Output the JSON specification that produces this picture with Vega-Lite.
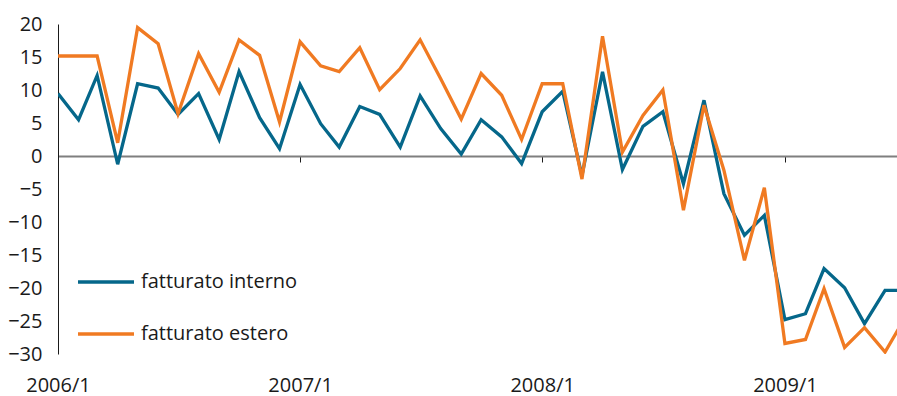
{
  "$schema": "https://vega.github.io/schema/vega-lite/v6.json",
  "width": 839,
  "height": 330,
  "autosize": "none",
  "padding": {"left": 58, "top": 24, "right": 0, "bottom": 42},
  "background": "white",
  "config": {
    "font": "Open Sans",
    "view": {"stroke": null}
  },
  "data": {
    "values": [
      {"date": "2006-01-01", "serie": "fatturato interno", "valore": 9.45},
      {"date": "2006-02-01", "serie": "fatturato interno", "valore": 5.5},
      {"date": "2006-03-01", "serie": "fatturato interno", "valore": 12.2},
      {"date": "2006-04-01", "serie": "fatturato interno", "valore": -1.25},
      {"date": "2006-05-01", "serie": "fatturato interno", "valore": 10.95},
      {"date": "2006-06-01", "serie": "fatturato interno", "valore": 10.3},
      {"date": "2006-07-01", "serie": "fatturato interno", "valore": 6.3},
      {"date": "2006-08-01", "serie": "fatturato interno", "valore": 9.45},
      {"date": "2006-09-01", "serie": "fatturato interno", "valore": 2.5},
      {"date": "2006-10-01", "serie": "fatturato interno", "valore": 12.8},
      {"date": "2006-11-01", "serie": "fatturato interno", "valore": 5.8},
      {"date": "2006-12-01", "serie": "fatturato interno", "valore": 1.1},
      {"date": "2007-01-01", "serie": "fatturato interno", "valore": 10.85},
      {"date": "2007-02-01", "serie": "fatturato interno", "valore": 4.9},
      {"date": "2007-03-01", "serie": "fatturato interno", "valore": 1.35},
      {"date": "2007-04-01", "serie": "fatturato interno", "valore": 7.5},
      {"date": "2007-05-01", "serie": "fatturato interno", "valore": 6.3},
      {"date": "2007-06-01", "serie": "fatturato interno", "valore": 1.35},
      {"date": "2007-07-01", "serie": "fatturato interno", "valore": 9.1},
      {"date": "2007-08-01", "serie": "fatturato interno", "valore": 4.15},
      {"date": "2007-09-01", "serie": "fatturato interno", "valore": 0.3},
      {"date": "2007-10-01", "serie": "fatturato interno", "valore": 5.5},
      {"date": "2007-11-01", "serie": "fatturato interno", "valore": 2.9},
      {"date": "2007-12-01", "serie": "fatturato interno", "valore": -1.15},
      {"date": "2008-01-01", "serie": "fatturato interno", "valore": 6.7},
      {"date": "2008-02-01", "serie": "fatturato interno", "valore": 9.8},
      {"date": "2008-03-01", "serie": "fatturato interno", "valore": -3.0},
      {"date": "2008-04-01", "serie": "fatturato interno", "valore": 12.75},
      {"date": "2008-05-01", "serie": "fatturato interno", "valore": -2.05},
      {"date": "2008-06-01", "serie": "fatturato interno", "valore": 4.5},
      {"date": "2008-07-01", "serie": "fatturato interno", "valore": 6.7},
      {"date": "2008-08-01", "serie": "fatturato interno", "valore": -4.2},
      {"date": "2008-09-01", "serie": "fatturato interno", "valore": 8.45},
      {"date": "2008-10-01", "serie": "fatturato interno", "valore": -5.7},
      {"date": "2008-11-01", "serie": "fatturato interno", "valore": -12.0},
      {"date": "2008-12-01", "serie": "fatturato interno", "valore": -9.0},
      {"date": "2009-01-01", "serie": "fatturato interno", "valore": -24.8},
      {"date": "2009-02-01", "serie": "fatturato interno", "valore": -23.9},
      {"date": "2009-03-01", "serie": "fatturato interno", "valore": -17.05},
      {"date": "2009-04-01", "serie": "fatturato interno", "valore": -19.95},
      {"date": "2009-05-01", "serie": "fatturato interno", "valore": -25.4},
      {"date": "2009-06-01", "serie": "fatturato interno", "valore": -20.35},
      {"date": "2009-07-01", "serie": "fatturato interno", "valore": -20.35},
      {"date": "2006-01-01", "serie": "fatturato estero", "valore": 15.15},
      {"date": "2006-02-01", "serie": "fatturato estero", "valore": 15.15},
      {"date": "2006-03-01", "serie": "fatturato estero", "valore": 15.15},
      {"date": "2006-04-01", "serie": "fatturato estero", "valore": 2.0},
      {"date": "2006-05-01", "serie": "fatturato estero", "valore": 19.45},
      {"date": "2006-06-01", "serie": "fatturato estero", "valore": 17.0},
      {"date": "2006-07-01", "serie": "fatturato estero", "valore": 6.4},
      {"date": "2006-08-01", "serie": "fatturato estero", "valore": 15.5},
      {"date": "2006-09-01", "serie": "fatturato estero", "valore": 9.65},
      {"date": "2006-10-01", "serie": "fatturato estero", "valore": 17.6},
      {"date": "2006-11-01", "serie": "fatturato estero", "valore": 15.25},
      {"date": "2006-12-01", "serie": "fatturato estero", "valore": 5.15},
      {"date": "2007-01-01", "serie": "fatturato estero", "valore": 17.3},
      {"date": "2007-02-01", "serie": "fatturato estero", "valore": 13.65},
      {"date": "2007-03-01", "serie": "fatturato estero", "valore": 12.8},
      {"date": "2007-04-01", "serie": "fatturato estero", "valore": 16.4},
      {"date": "2007-05-01", "serie": "fatturato estero", "valore": 10.05},
      {"date": "2007-06-01", "serie": "fatturato estero", "valore": 13.25},
      {"date": "2007-07-01", "serie": "fatturato estero", "valore": 17.6},
      {"date": "2007-08-01", "serie": "fatturato estero", "valore": 11.7},
      {"date": "2007-09-01", "serie": "fatturato estero", "valore": 5.6},
      {"date": "2007-10-01", "serie": "fatturato estero", "valore": 12.5},
      {"date": "2007-11-01", "serie": "fatturato estero", "valore": 9.2},
      {"date": "2007-12-01", "serie": "fatturato estero", "valore": 2.5},
      {"date": "2008-01-01", "serie": "fatturato estero", "valore": 10.95},
      {"date": "2008-02-01", "serie": "fatturato estero", "valore": 10.95},
      {"date": "2008-03-01", "serie": "fatturato estero", "valore": -3.5},
      {"date": "2008-04-01", "serie": "fatturato estero", "valore": 18.15},
      {"date": "2008-05-01", "serie": "fatturato estero", "valore": 0.6},
      {"date": "2008-06-01", "serie": "fatturato estero", "valore": 6.15},
      {"date": "2008-07-01", "serie": "fatturato estero", "valore": 10.0},
      {"date": "2008-08-01", "serie": "fatturato estero", "valore": -8.2},
      {"date": "2008-09-01", "serie": "fatturato estero", "valore": 7.7},
      {"date": "2008-10-01", "serie": "fatturato estero", "valore": -2.15},
      {"date": "2008-11-01", "serie": "fatturato estero", "valore": -15.8},
      {"date": "2008-12-01", "serie": "fatturato estero", "valore": -4.8},
      {"date": "2009-01-01", "serie": "fatturato estero", "valore": -28.4},
      {"date": "2009-02-01", "serie": "fatturato estero", "valore": -27.8},
      {"date": "2009-03-01", "serie": "fatturato estero", "valore": -20.1},
      {"date": "2009-04-01", "serie": "fatturato estero", "valore": -29.0},
      {"date": "2009-05-01", "serie": "fatturato estero", "valore": -26.0},
      {"date": "2009-06-01", "serie": "fatturato estero", "valore": -29.7},
      {"date": "2009-07-01", "serie": "fatturato estero", "valore": -24.5}
    ]
  },
  "mark": {"type": "line", "strokeWidth": 3.3, "clip": true, "strokeJoin": "miter"},
  "encoding": {
    "x": {
      "field": "date",
      "type": "temporal",
      "scale": {
        "type": "utc",
        "domain": [
          {"year": 2006, "month": 1, "date": 1, "utc": true},
          {"year": 2009, "month": 6, "date": 19, "utc": true}
        ]
      },
      "axis": {
        "title": null,
        "orient": "bottom",
        "offset": -198,
        "grid": false,
        "domain": true,
        "domainColor": "#7f7f7f",
        "domainWidth": 2,
        "ticks": true,
        "tickColor": "#1a1a1a",
        "tickWidth": 1,
        "tickSize": 6,
        "tickCount": {"interval": "year", "step": 1},
        "labelExpr": "utcFormat(datum.value, '%Y') + '/1'",
        "labelPadding": 213,
        "labelFontSize": 20,
        "labelColor": "#1a1a1a",
        "labelFont": "Open Sans",
        "labelFlush": false,
        "labelOverlap": false
      }
    },
    "y": {
      "field": "valore",
      "type": "quantitative",
      "scale": {"domain": [-30, 20], "nice": false, "zero": false},
      "axis": {
        "title": null,
        "values": [-30, -25, -20, -15, -10, -5, 0, 5, 10, 15, 20],
        "grid": false,
        "ticks": false,
        "tickSize": 0,
        "domain": true,
        "domainColor": "#1a1a1a",
        "domainWidth": 1,
        "labelPadding": 16,
        "labelFontSize": 20,
        "labelColor": "#1a1a1a",
        "labelFont": "Open Sans"
      }
    },
    "color": {
      "field": "serie",
      "type": "nominal",
      "scale": {
        "domain": ["fatturato interno", "fatturato estero"],
        "range": ["#05678a", "#f07a22"]
      },
      "legend": {
        "title": null,
        "orient": "none",
        "legendX": 18,
        "legendY": 228,
        "symbolType": "stroke",
        "symbolSize": 3136,
        "symbolStrokeWidth": 3.5,
        "labelFontSize": 20,
        "labelFont": "Open Sans",
        "labelColor": "#1a1a1a",
        "labelOffset": 5,
        "rowPadding": 12
      }
    }
  }
}
